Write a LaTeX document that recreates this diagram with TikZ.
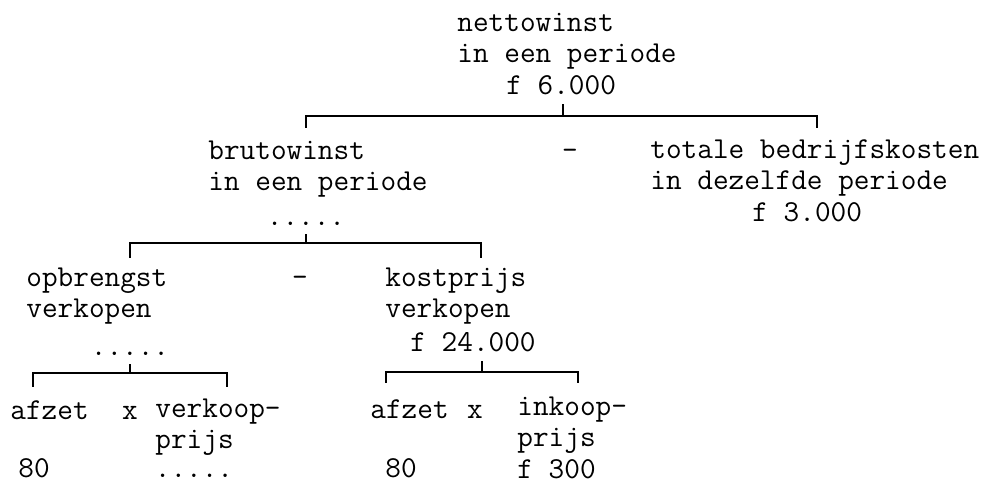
\documentclass[tikz,border=0pt]{standalone}
\tikzset{
  txt/.style={anchor=base west, align=left, inner sep=0pt, font=\fontsize{15.2}{15.75}\selectfont\ttfamily},
  val/.style={txt, inner ysep=4pt},
  dots/.style={val, anchor=base},
  op/.style={txt, anchor=base},
  tree/.style={draw=black, line width=1pt},
}
\begin{document}
\begin{tikzpicture}[x=0.5pt, y={(0pt,-0.5pt)}]
  \useasboundingbox[fill=white] (0,0) rectangle (986,486);
  % top level
  \node[txt] (net) at (457,63) {nettowinst\\in een periode};
  \node[val] (netv) at (506,95) {f 6.000};
  \node[txt] (bruto) at (208,191) {brutowinst\\in een periode};
  \node[dots] (brutov) at (306,226) {.....};
  \node[op] (min1) at (570,160) {-};
  \node[txt] (kosten) at (650,190) {totale bedrijfskosten\\in dezelfde periode};
  \node[val] (kostenv) at (752,222) {f 3.000};
  % second level
  \node[txt] (opbr) at (26,318) {opbrengst\\verkopen};
  \node[dots] (opbrv) at (130,356) {.....};
  \node[op] (min2) at (300,287) {-};
  \node[txt] (kpr) at (385,318) {kostprijs\\verkopen};
  \node[val] (kprv) at (410,352) {f 24.000};
  % bottom level
  \node[txt] (afz1) at (10,420) {afzet};
  \node[op] (x1) at (130,420) {x};
  \node[txt] (vkp) at (155,449) {verkoop-\\prijs};
  \node[txt] (afz1v) at (18,477) {80};
  \node[dots] (vkpv) at (194,477) {.....};
  \node[txt] (afz2) at (370,418) {afzet};
  \node[op] (x2) at (475,418) {x};
  \node[txt] (ikp) at (517,478) {inkoop-\\prijs\\f 300};
  \node[txt] (afz2v) at (385,477) {80};
  % brackets
  \coordinate (h1) at (563,116);
  \coordinate (l1) at (306,128);
  \coordinate (r1) at (817,128);
  \coordinate (h2) at (306,243);
  \coordinate (l2) at (130,258);
  \coordinate (r2) at (481,258);
  \coordinate (h3) at (130,373);
  \coordinate (l3) at (33,387);
  \coordinate (r3) at (227,387);
  \coordinate (h4) at (482,372);
  \coordinate (l4) at (386,383);
  \coordinate (r4) at (578,383);
  \draw[tree] (l1) |- (h1) -| (r1) (h1) -- (h1 |- netv.south);
  \draw[tree] (l2) |- (h2) -| (r2) (h2) -- (h2 |- brutov.south);
  \draw[tree] (l3) |- (h3) -| (r3) (h3) -- (h3 |- opbrv.south);
  \draw[tree] (l4) |- (h4) -| (r4) (h4) -- (h4 |- kprv.south);
\end{tikzpicture}
\end{document}
